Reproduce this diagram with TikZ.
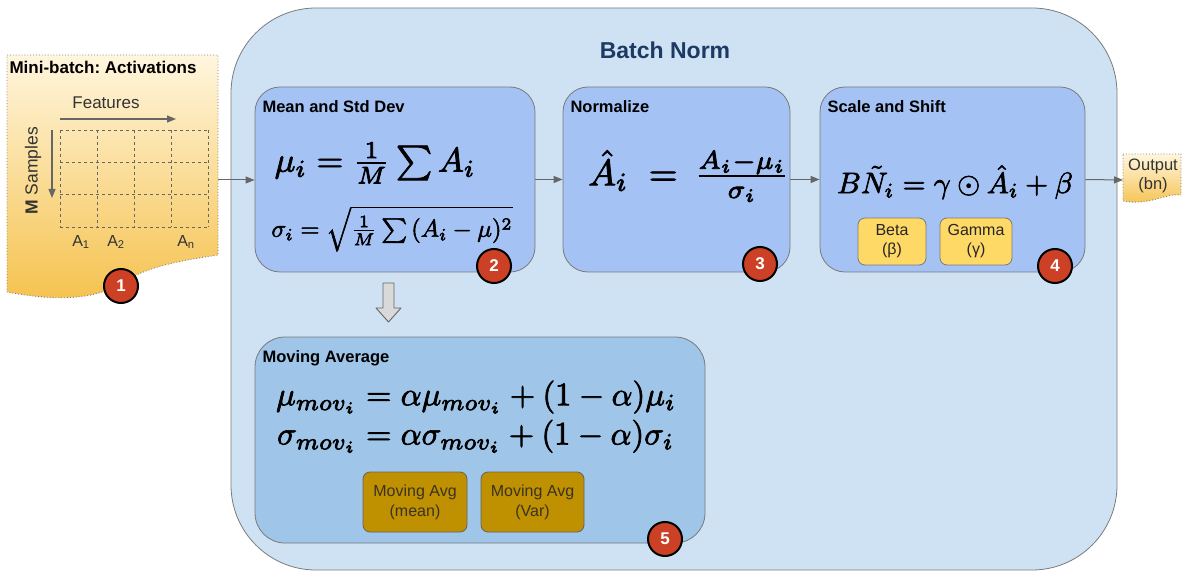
\documentclass[tikz,border=0pt]{standalone}
\usepackage[no-math]{fontspec}
\setmainfont{Liberation Sans}
\usepackage{amsmath}
\usepackage{graphicx}
\usetikzlibrary{arrows.meta,shapes.geometric}
\frenchspacing
\newcommand{\heavymath}[1]{\special{pdf:literal direct 0.22 w 2 Tr}#1\special{pdf:literal direct 0 Tr}}
\definecolor{outerfill}{HTML}{CFE2F3}
\definecolor{innerfill}{HTML}{A4C2F4}
\definecolor{movfill}{HTML}{9FC5E8}
\definecolor{paramfill}{HTML}{FFD966}
\definecolor{mavgfill}{HTML}{BF9000}
\definecolor{badgered}{HTML}{CC4125}
\definecolor{edgegray}{HTML}{7A7A7A}
\definecolor{linegray}{HTML}{666666}
\definecolor{navy}{HTML}{1C3A63}
\definecolor{yelltop}{HTML}{FFF6DE}
\definecolor{yellbot}{HTML}{F5C24E}
\definecolor{mavgtext}{HTML}{3A3320}
\tikzset{
  box/.style={draw=edgegray, line width=0.8pt, rounded corners=25pt, fill=innerfill},
  ttl/.style={anchor=west, font=\fontsize{16.5}{18}\selectfont\bfseries},
  param/.style={draw=edgegray, line width=0.8pt, rounded corners=7pt, fill=paramfill, align=center, text=black!85, font=\fontsize{16}{19}\selectfont},
  mavg/.style={draw=edgegray!80!black, line width=0.8pt, rounded corners=7pt, fill=mavgfill, align=center, text=mavgtext, font=\fontsize{16}{20}\selectfont},
  badge/.style={circle, draw=black, line width=2pt, fill=badgered, minimum size=34pt, inner sep=0pt, text=white, font=\fontsize{17}{17}\selectfont\bfseries},
  conn/.style={draw=linegray, line width=1pt, -{Triangle[length=9pt,width=7pt]}},
  doc/.style={draw=gray, dotted, line width=0.9pt, top color=yelltop, bottom color=yellbot},
  gridline/.style={draw=linegray, dashed, line width=0.9pt},
  lbl/.style={font=\fontsize{16}{18}\selectfont, text=black!80},
  eq/.style={inner sep=0pt},
}
\begin{document}
\begin{tikzpicture}[x=1pt,y=-1pt]
\useasboundingbox (0,0) rectangle (1187,572);
% outer
\node[draw=edgegray, line width=0.8pt, rounded corners=85pt, fill=outerfill, minimum width=886pt, minimum height=562pt, inner sep=0pt] (bn) at (674,289) {};
\node[font=\fontsize{23}{25}\selectfont\bfseries, text=navy] (bntitle) at (665,50) {Batch Norm};
% mini-batch
\path[doc] (7,55) -- (218,55) -- (218,255) .. controls (170,262) and (150,268) .. (130,278) .. controls (100,300) and (60,302) .. (7,292) -- cycle;
\node[anchor=west, font=\fontsize{17}{19}\selectfont\bfseries] (mbtitle) at (6,67) {Mini-batch: Activations};
\node[lbl, font=\fontsize{17}{19}\selectfont] (feat) at (106,103) {Features};
\coordinate (fa) at (60,119);
\coordinate (fb) at (176,119);
\draw[draw=linegray, line width=1.2pt, -{Triangle[length=9pt,width=7pt]}] (fa) -- (fb);
\node[lbl, rotate=90, font=\fontsize{17.5}{19}\selectfont] (msamp) at (33,171) {\textbf{M} Samples};
\coordinate (sa) at (52,130);
\coordinate (sb) at (52,198);
\draw[draw=linegray, line width=1.2pt, -{Triangle[length=9pt,width=7pt]}] (sa) -- (sb);
\foreach \gx in {60,97,134,171,208} \draw[gridline] (\gx,130) -- (\gx,227);
\foreach \gy in {130,162.3,194.7,227} \draw[gridline] (60,\gy) -- (208,\gy);
\node[lbl] (a1) at (81,242) {A\textsubscript{1}};
\node[lbl] (a2) at (116,242) {A\textsubscript{2}};
\node[lbl] (an) at (186,242) {A\textsubscript{n}};
\coordinate (mbout) at (218,180);
% mean
\node[box, minimum width=280pt, minimum height=185pt] (mean) at (395,179.5) {};
\node[ttl] (meant) at (259,107) {Mean and Std Dev};
\node[eq] (f1) at (375,163) {\scalebox{3.45}{\heavymath{$\mu_i = \frac{1}{M}\sum A_i$}}};
\node[eq] (f2) at (392,229) {\scalebox{2.45}{\heavymath{$\sigma_i = \sqrt{\frac{1}{M}\sum{(A_i-\mu)^2}}$}}};
% normalize
\node[box, minimum width=227pt, minimum height=185pt] (norm) at (676.5,179.5) {};
\node[ttl] (normt) at (567,107) {Normalize};
\node[eq] (f3) at (689,176) {\scalebox{3.7}{\heavymath{$\hat{A}_i \;=\, \frac{A_i-\mu_i}{\sigma_i}$}}};
% scale and shift
\node[box, minimum width=265pt, minimum height=185pt] (scale) at (952.5,179.5) {};
\node[ttl] (scalet) at (824,107) {Scale and Shift};
\node[eq] (f4) at (955,182) {\scalebox{2.95}{\heavymath{$B\tilde{N}_i = \gamma \odot \hat{A}_i + \beta$}}};
\node[param, minimum width=68pt, minimum height=47pt] (beta) at (892,241.5) {Beta\\(β)};
\node[param, minimum width=72pt, minimum height=47pt] (gamma) at (976,241.5) {Gamma\\(γ)};
% output
\path[doc] (1123,154) -- (1181,154) -- (1181,195) .. controls (1165,193) and (1150,206) .. (1123,201) -- cycle;
\node[lbl, align=center, font=\fontsize{16.5}{19}\selectfont] (outt) at (1153,176) {Output\\(bn)};
\coordinate (outin) at (1123,180);
% connectors
\draw[conn] (mbout) -- (mean.west |- mbout);
\draw[conn] (mean.east) -- (norm.west);
\draw[conn] (norm.east) -- (scale.west);
\draw[conn] (scale.east) -- (outin);
% block arrow
\draw[draw=linegray, line width=0.9pt, fill=black!15, line join=round] (383,283) -- (394,283) -- (394,308) -- (401,308) -- (388.5,322) -- (376,308) -- (383,308) -- cycle;
% moving average
\node[box, fill=movfill, rounded corners=30pt, minimum width=450pt, minimum height=206pt] (mov) at (480,440) {};
\node[ttl] (movt) at (259,358) {Moving Average};
\node[eq] (f5) at (476,417) {\scalebox{3.27}{\heavymath{$\begin{aligned}\mu_{mov_i} &= \alpha\mu_{mov_i} + (1-\alpha)\mu_i\\[-3pt] \sigma_{mov_i} &= \alpha\sigma_{mov_i} + (1-\alpha)\sigma_i\end{aligned}$}}};
\node[mavg, minimum width=104pt, minimum height=60pt] (mavgmean) at (415,502) {Moving Avg\\(mean)};
\node[mavg, minimum width=103pt, minimum height=60pt] (mavgvar) at (532.5,502) {Moving Avg\\(Var)};
% badges
\node[badge] (b1) at (121,286) {1};
\node[badge] (b2) at (494,266) {2};
\node[badge] (b3) at (760,264) {3};
\node[badge] (b4) at (1055,266) {4};
\node[badge] (b5) at (665,539) {5};
\end{tikzpicture}
\end{document}
